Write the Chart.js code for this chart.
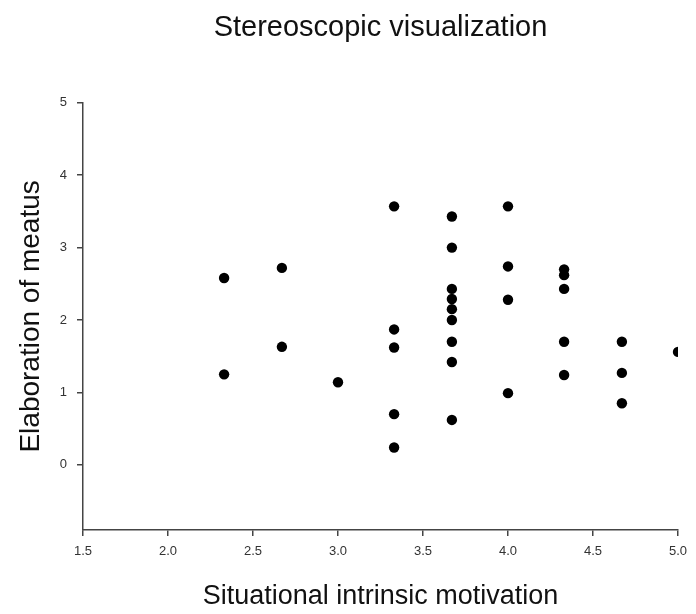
<!DOCTYPE html>
<html>
<head>
<meta charset="utf-8">
<script src="https://cdn.jsdelivr.net/npm/chart.js@4/dist/chart.umd.min.js"></script>
<style>
  html, body { margin: 0; padding: 0; background: #fff; }
  #wrap { width: 696px; height: 614px; }
</style>
</head>
<body>
<div id="wrap"><canvas id="myChart" width="696" height="614"></canvas></div>
<script>
// data
const motivation = [2.33, 2.33, 2.67, 2.67, 3.0,
  3.33, 3.33, 3.33, 3.33, 3.33,
  3.67, 3.67, 3.67, 3.67, 3.67, 3.67, 3.67, 3.67, 3.67,
  4.0, 4.0, 4.0, 4.0,
  4.33, 4.33, 4.33, 4.33, 4.33,
  4.67, 4.67, 4.67, 5.0]
const meatus = [2.58, 1.25, 2.72, 1.63, 1.14,
  3.57, 1.87, 1.62, 0.70, 0.24,
  3.43, 3.0, 2.43, 2.29, 2.15, 2.0, 1.70, 1.42, 0.62,
  3.57, 2.74, 2.28, 0.99,
  2.70, 2.62, 2.43, 1.70, 1.24,
  1.70, 1.27, 0.85, 1.56]
const xTicks = [1.5, 2.0, 2.5, 3.0, 3.5, 4.0, 4.5, 5.0]
const yTicks = [0, 1, 2, 3, 4, 5]

const points = motivation.map((x, i) => ({x: x, y: meatus[i]}))
const font = "'Liberation Sans', Arial, sans-serif"

var ctx = document.getElementById('myChart').getContext('2d')

var myChart = new Chart(ctx, {
  type: 'scatter',
  data: {
    datasets: [{
      data: points,
      pointRadius: 5.2,
      pointHoverRadius: 5.2,
      backgroundColor: '#000',
      borderColor: '#000',
      borderWidth: 0
    }]
  },
  options: {
    responsive: false,
    animation: false,
    layout: { padding: { left: 0, right: 18, top: 0, bottom: 0 } },
    plugins: {
      legend: { display: false },
      tooltip: { enabled: false },
      title: {
        display: true,
        fullSize: false,
        text: 'Stereoscopic visualization',
        color: '#111',
        font: { family: font, size: 29, weight: 'normal' },
        padding: { top: 11, bottom: 57 }
      }
    },
    scales: {
      x: {
        type: 'linear',
        min: 1.5,
        max: 5.0,
        afterBuildTicks: s => { s.ticks = xTicks.map(v => ({value: v})) },
        afterFit: s => { s.height = 84 },
        ticks: {
          color: '#333',
          font: { family: font, size: 13 },
          padding: 8,
          maxRotation: 0,
          callback: v => v.toFixed(1)
        },
        grid: { drawOnChartArea: false, tickLength: 6, color: '#444', lineWidth: 1.5 },
        border: { color: '#444', width: 1.5 },
        title: {
          display: true,
          text: 'Situational intrinsic motivation',
          color: '#111',
          font: { family: font, size: 27 },
          padding: { top: 0, bottom: 1 }
        }
      },
      y: {
        min: -0.9,
        max: 5,
        afterBuildTicks: s => { s.ticks = yTicks.map(v => ({value: v})) },
        afterFit: s => { s.width = 83 },
        ticks: {
          color: '#333',
          font: { family: font, size: 13 },
          padding: 10,
          callback: v => String(v)
        },
        grid: { drawOnChartArea: false, tickLength: 6, color: '#444', lineWidth: 1.5 },
        border: { color: '#444', width: 1.5 },
        title: {
          display: true,
          text: 'Elaboration of meatus',
          color: '#111',
          font: { family: font, size: 28 },
          padding: { top: 14, bottom: 0 }
        }
      }
    }
  }
})
</script>
</body>
</html>
